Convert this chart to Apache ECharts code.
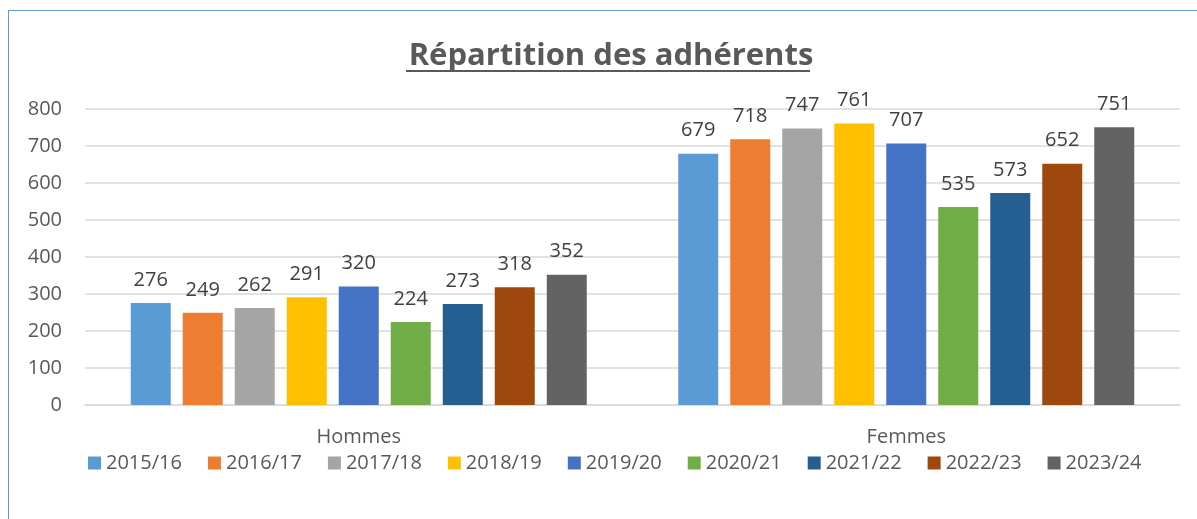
<!DOCTYPE html>
<html>
<head>
<meta charset="utf-8">
<script src="https://cdn.jsdelivr.net/npm/echarts@6/dist/echarts.min.js"></script>
<style>
  html, body { margin: 0; padding: 0; background: #fff; overflow: hidden; }
  #frame {
    position: absolute; left: 8px; top: 10px; width: 1220px; height: 540px;
    border: 1.5px solid #5b9bd5; box-sizing: border-box;
  }
  #chart { position: absolute; left: 0; top: 0; width: 1197px; height: 519px; }
</style>
</head>
<body>
<div id="frame"></div>
<div id="chart" role="img" aria-label="Répartition des adhérents"></div>
<script>
const categories = ['Hommes', 'Femmes'];
const seasons = ['2015/16', '2016/17', '2017/18', '2018/19', '2019/20', '2020/21', '2021/22', '2022/23', '2023/24'];
const hommes = [276, 249, 262, 291, 320, 224, 273, 318, 352];
const femmes = [679, 718, 747, 761, 707, 535, 573, 652, 751];
const colors = ['#5b9bd5', '#ed7d31', '#a5a5a5', '#ffc000', '#4472c4', '#70ad47', '#255e91', '#9e480e', '#636363'];

const font = '"Open Sans", "Noto Sans", sans-serif';

const chart = echarts.init(document.getElementById('chart'), undefined, { renderer: 'canvas' });

const series = seasons.map((name, i) => ({
  name,
  type: 'bar',
  data: [hommes[i], femmes[i]],
  barWidth: 40,
  barGap: '30%',
  itemStyle: { color: colors[i] },
  label: {
    show: true,
    position: 'top',
    distance: 13,
    color: '#404040',
    fontSize: 20,
    fontFamily: font
  }
}));

chart.setOption({
  animation: false,
  color: colors,
  title: {
    text: 'Répartition des adhérents',
    left: 606,
    top: 36,
    textAlign: 'center',
    textStyle: { color: '#595959', fontSize: 31, fontWeight: 'bold', fontFamily: font }
  },
  // underline under the title
  graphic: [
    { type: 'rect', left: 406, top: 70, shape: { width: 404, height: 2 }, style: { fill: '#595959' } }
  ],
  legend: {
    data: seasons,
    bottom: 41,
    left: 83,
    itemWidth: 13,
    itemHeight: 13,
    itemGap: 26,
    icon: 'rect',
    textStyle: { color: '#595959', fontSize: 20, fontFamily: font }
  },
  grid: { left: 85, right: 17, top: 109, bottom: 114, containLabel: false },
  xAxis: {
    type: 'category',
    data: categories,
    axisLine: { lineStyle: { color: '#d9d9d9', width: 1.5 } },
    axisTick: { show: false },
    axisLabel: { color: '#595959', fontSize: 20, fontFamily: font, margin: 22 }
  },
  yAxis: {
    type: 'value',
    min: 0,
    max: 800,
    interval: 100,
    axisLine: { show: false },
    axisTick: { show: false },
    splitLine: { lineStyle: { color: '#d9d9d9', width: 1.5 } },
    axisLabel: { color: '#595959', fontSize: 20, fontFamily: font, margin: 23 }
  },
  series
});
</script>
</body>
</html>
